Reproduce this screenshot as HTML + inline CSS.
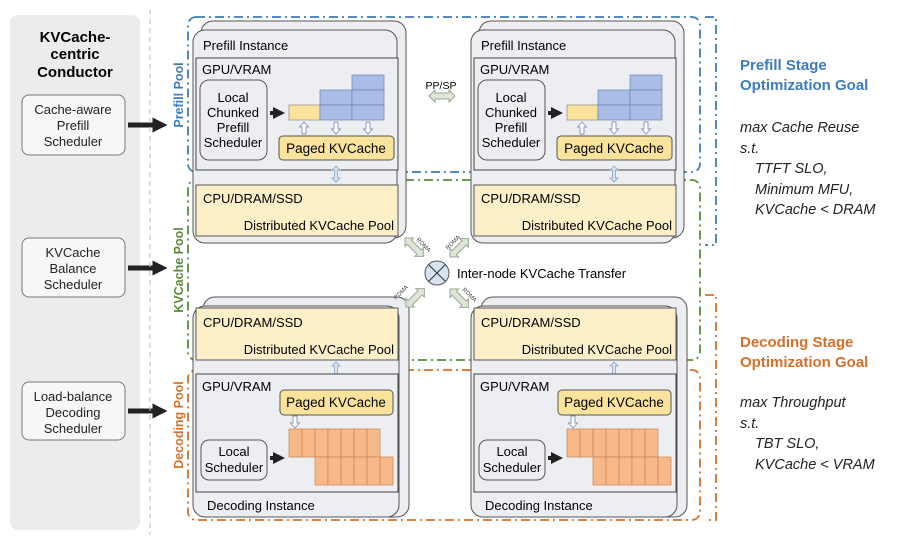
<!DOCTYPE html>
<html><head><meta charset="utf-8"><style>body{margin:0;background:#fff}svg{display:block}text{font-family:"Liberation Sans",sans-serif}</style></head><body>
<svg width="897" height="543" viewBox="0 0 897 543" xmlns="http://www.w3.org/2000/svg">
<defs>
<marker id="ah" markerWidth="3" markerHeight="3" refX="1.5" refY="1.5" orient="auto"><path d="M0,0L3,1.5L0,3z" fill="#222"/></marker>
<g id="dbl"><path d="M0,0 l6,-6 v3 h14 v-3 l6,6 l-6,6 v-3 h-14 v3z" fill="#dfe6d8" stroke="#9aa894" stroke-width="1"/></g>
<g id="vdbl"><path d="M0,0 l-4,4 h2.5 v8 h-2.5 l4,4 l4,-4 h-2.5 v-8 h2.5z" fill="#dbe5f3" stroke="#8aa0c0" stroke-width="0.8"/></g>
<g id="dn"><path d="M-2,0 h4 v7 h2.5 l-4.5,5 l-4.5,-5 h2.5z" fill="#fff" stroke="#7f95b8" stroke-width="0.9"/></g>
<g id="up"><path d="M-2,12 h4 v-7 h2.5 l-4.5,-5 l-4.5,5 h2.5z" fill="#fff" stroke="#7f95b8" stroke-width="0.9"/></g>
</defs>
<rect x="10" y="15" width="130" height="515" rx="8" fill="#ececec"/>
<text x="75" y="42" font-size="15" font-weight="bold" text-anchor="middle">KVCache-</text>
<text x="75" y="59" font-size="15" font-weight="bold" text-anchor="middle">centric</text>
<text x="75" y="77" font-size="15" font-weight="bold" text-anchor="middle">Conductor</text>
<g font-size="13" text-anchor="middle" fill="#222">
<rect x="22" y="95" width="103" height="60" rx="7" fill="#f7f7f7" stroke="#777"/>
<text x="73" y="114">Cache-aware</text><text x="73" y="130">Prefill</text><text x="73" y="146">Scheduler</text>
<rect x="22" y="238" width="103" height="59" rx="7" fill="#f7f7f7" stroke="#777"/>
<text x="73" y="257">KVCache</text><text x="73" y="273">Balance</text><text x="73" y="289">Scheduler</text>
<rect x="22" y="382" width="103" height="58" rx="7" fill="#f7f7f7" stroke="#777"/>
<text x="73" y="401">Load-balance</text><text x="73" y="417">Decoding</text><text x="73" y="433">Scheduler</text>
</g>
<g stroke="#222" stroke-width="5" marker-end="url(#ah)">
<line x1="128" y1="125" x2="160" y2="125"/><line x1="128" y1="268" x2="160" y2="268"/><line x1="128" y1="411" x2="160" y2="411"/>
</g>
<line x1="150" y1="10" x2="150" y2="535" stroke="#bbb" stroke-dasharray="5,4"/>
<rect x="188" y="17" width="512" height="155" rx="8" fill="none" stroke="#3d7bbf" stroke-width="1.8" stroke-dasharray="9,4,2,4"/>
<rect x="188" y="180" width="512" height="180" rx="8" fill="none" stroke="#5b8a3a" stroke-width="1.8" stroke-dasharray="9,4,2,4"/>
<rect x="188" y="370" width="512" height="150" rx="8" fill="none" stroke="#d96f2a" stroke-width="1.8" stroke-dasharray="9,4,2,4"/>
<g font-size="12.5" font-weight="bold">
<text transform="translate(183,95) rotate(-90)" text-anchor="middle" fill="#3d7bbf">Prefill Pool</text>
<text transform="translate(183,270) rotate(-90)" text-anchor="middle" fill="#5b8a3a">KVCache Pool</text>
<text transform="translate(183,425) rotate(-90)" text-anchor="middle" fill="#d96f2a">Decoding Pool</text>
</g>
<g id="pf">
<rect x="201" y="21" width="205" height="217" rx="12" fill="#eceef2" stroke="#555"/>
<rect x="193" y="30" width="204" height="213" rx="12" fill="#eceef2" stroke="#555"/>
<text x="203" y="50" font-size="13">Prefill Instance</text>
<rect x="196" y="58" width="202" height="112" fill="#eceef2" stroke="#444"/>
<text x="202" y="74" font-size="13">GPU/VRAM</text>
<rect x="200" y="80" width="67" height="80" rx="9" fill="#eceef2" stroke="#555"/>
<g font-size="13" text-anchor="middle"><text x="233" y="102">Local</text><text x="233" y="117">Chunked</text><text x="233" y="132">Prefill</text><text x="233" y="147">Scheduler</text></g>
<line x1="270" y1="113" x2="279" y2="113" stroke="#222" stroke-width="4" marker-end="url(#ah)"/>
<rect x="289" y="105" width="31" height="15" fill="#fbe39c" stroke="#8a8a8a" stroke-width="0.7"/>
<g fill="#a9bde6" stroke="#6f84b3" stroke-width="0.7">
<rect x="320" y="90" width="32" height="15"/><rect x="320" y="105" width="32" height="15"/>
<rect x="352" y="75" width="32" height="15"/><rect x="352" y="90" width="32" height="15"/><rect x="352" y="105" width="32" height="15"/>
</g>
<use href="#up" x="304" y="122"/><use href="#dn" x="336" y="122"/><use href="#dn" x="368" y="122"/>
<rect x="279" y="136" width="115" height="24" rx="4" fill="#fbe39c" stroke="#555"/>
<text x="336" y="153" font-size="13.5" text-anchor="middle">Paged KVCache</text>
<use href="#vdbl" x="336" y="166"/>
<rect x="196" y="185" width="202" height="51" fill="#fdf0c8" stroke="#555"/>
<text x="203" y="203" font-size="13">CPU/DRAM/SSD</text>
<text x="394" y="230" font-size="13" text-anchor="end">Distributed KVCache Pool</text>
</g>
<use href="#pf" x="278"/>
<use href="#dbl" x="429" y="96"/>
<text x="441" y="89" font-size="10.5" text-anchor="middle">PP/SP</text>
<g id="dc">
<rect x="203" y="297" width="206" height="220" rx="12" fill="#eceef2" stroke="#555"/>
<rect x="193" y="306" width="206" height="211" rx="12" fill="#eceef2" stroke="#555"/>
<rect x="196" y="308" width="202" height="52" fill="#fdf0c8" stroke="#555"/>
<text x="203" y="327" font-size="13">CPU/DRAM/SSD</text>
<text x="394" y="354" font-size="13" text-anchor="end">Distributed KVCache Pool</text>
<use href="#vdbl" x="336" y="362"/>
<rect x="196" y="374" width="202" height="118" fill="#eceef2" stroke="#444"/>
<text x="202" y="391" font-size="13">GPU/VRAM</text>
<rect x="280" y="390" width="113" height="25" rx="4" fill="#fbe39c" stroke="#555"/>
<text x="336" y="407" font-size="13.5" text-anchor="middle">Paged KVCache</text>
<use href="#dn" x="295" y="416"/>
<g fill="#f8b98a" stroke="#c98455" stroke-width="0.7">
<rect x="289" y="429" width="13" height="28"/><rect x="302" y="429" width="13" height="28"/><rect x="315" y="429" width="13" height="28"/><rect x="328" y="429" width="13" height="28"/><rect x="341" y="429" width="13" height="28"/><rect x="354" y="429" width="13" height="28"/><rect x="367" y="429" width="13" height="28"/>
<rect x="315" y="457" width="13" height="28"/><rect x="328" y="457" width="13" height="28"/><rect x="341" y="457" width="13" height="28"/><rect x="354" y="457" width="13" height="28"/><rect x="367" y="457" width="13" height="28"/><rect x="380" y="457" width="13" height="28"/>
</g>
<rect x="201" y="440" width="66" height="40" rx="8" fill="#eceef2" stroke="#555"/>
<g font-size="13" text-anchor="middle"><text x="234" y="456">Local</text><text x="234" y="472">Scheduler</text></g>
<line x1="270" y1="458" x2="279" y2="458" stroke="#222" stroke-width="4" marker-end="url(#ah)"/>
<text x="207" y="510" font-size="13">Decoding Instance</text>
</g>
<use href="#dc" x="278"/>
<use href="#dbl" transform="translate(405,238) rotate(45)"/>
<use href="#dbl" transform="translate(450,257) rotate(-45)"/>
<use href="#dbl" transform="translate(406,307) rotate(-45)"/>
<use href="#dbl" transform="translate(450,289) rotate(45)"/>
<g font-size="6" fill="#444">
<text transform="translate(416,240) rotate(45)">RDMA</text>
<text transform="translate(448,250) rotate(-45)">RDMA</text>
<text transform="translate(396,300) rotate(-45)">RDMA</text>
<text transform="translate(462,290) rotate(45)">RDMA</text>
</g>
<circle cx="437" cy="273" r="12" fill="#d7e3f3" stroke="#556"/>
<path d="M428.5,264.5L445.5,281.5M445.5,264.5L428.5,281.5" stroke="#333"/>
<text x="457" y="278" font-size="13">Inter-node KVCache Transfer</text>
<path d="M705,17 H716 V245 H705" fill="none" stroke="#3d7bbf" stroke-width="1.8" stroke-dasharray="9,4,2,4"/>
<path d="M705,295 H716 V520 H705" fill="none" stroke="#d96f2a" stroke-width="1.8" stroke-dasharray="9,4,2,4"/>
<g font-size="15" font-weight="bold">
<text x="740" y="70" fill="#3d7bbf">Prefill Stage</text><text x="740" y="90" fill="#3d7bbf">Optimization Goal</text>
<text x="740" y="347" fill="#d96f2a">Decoding Stage</text><text x="740" y="367" fill="#d96f2a">Optimization Goal</text>
</g>
<g font-size="14.5" font-style="italic" fill="#222">
<text x="740" y="132">max Cache Reuse</text><text x="740" y="153">s.t.</text>
<text x="755" y="173">TTFT SLO,</text><text x="755" y="194">Minimum MFU,</text><text x="755" y="214">KVCache &lt; DRAM</text>
<text x="740" y="407">max Throughput</text><text x="740" y="428">s.t.</text>
<text x="755" y="448">TBT SLO,</text><text x="755" y="469">KVCache &lt; VRAM</text>
</g>
</svg>
</body></html>
